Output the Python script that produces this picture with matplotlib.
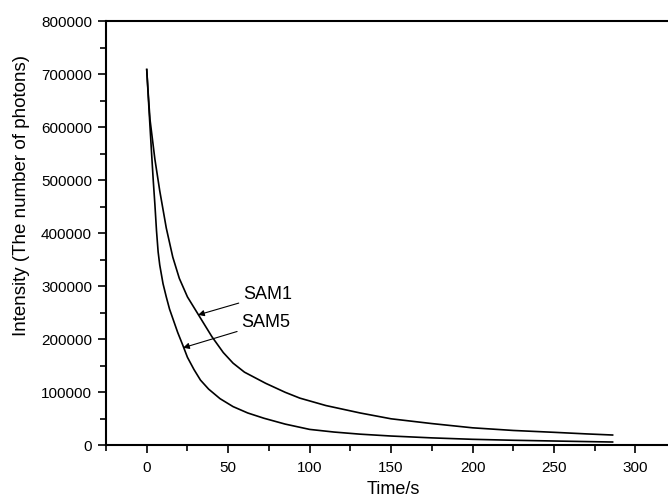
import matplotlib
matplotlib.use("Agg")
import matplotlib.pyplot as plt
from matplotlib.ticker import MultipleLocator

plt.rcParams['font.family'] = ['Liberation Sans', 'DejaVu Sans']

# Time (s) and intensity (photons)
t_sam1 = [0, 1, 2, 5, 8, 12, 16, 20, 25, 30, 35, 40, 47, 53, 60, 73, 85, 94,
          110, 131, 150, 175, 200, 225, 250, 270, 286]
v_sam1 = [709000, 660000, 615000, 540000, 480000, 410000, 355000, 315000, 280000,
          255000, 230000, 205000, 175000, 155000, 138000, 117000, 100000, 89000,
          75000, 61000, 50000, 41000, 33000, 28000, 24500, 21500, 19400]

t_sam5 = [0, 1, 2, 3, 4, 5, 6, 7, 8, 10, 12, 14, 16.5, 19, 22, 25, 29, 33, 38, 45,
          53, 62, 72, 85, 100, 115, 131, 150, 175, 200, 225, 250, 270, 286]
v_sam5 = [709000, 655000, 602000, 550000, 500000, 455000, 405000, 365000, 340000,
          305000, 280000, 257000, 235000, 213000, 190000, 166000, 143000, 123000,
          106000, 88000, 73000, 61000, 51000, 40000, 30000, 25000, 21000, 17500,
          14000, 11300, 9500, 8100, 7000, 6200]

labels = ["SAM1", "SAM5"]
arrow_tips = [(31.5, 246000), (22.3, 184000)]
text_pos = [(59, 284000), (58, 231000)]

xlim = (-25, 320)
ylim = (0, 800000)

fig = plt.figure(figsize=(6.68, 5.04), dpi=100)
ax = fig.add_axes([106 / 668, 1 - 445.3 / 504, 1 - 106 / 668, (445.3 - 21.3) / 504])

ax.plot(t_sam1, v_sam1, color='black', lw=1.2)
ax.plot(t_sam5, v_sam5, color='black', lw=1.2)

for lab, tip, tp in zip(labels, arrow_tips, text_pos):
    ax.annotate(lab, xy=tip, xytext=tp, fontsize=13, ha='left', va='center',
                arrowprops=dict(arrowstyle='-|>', color='black', lw=0.8,
                                mutation_scale=9, shrinkA=1, shrinkB=0))

ax.set_xlim(*xlim)
ax.set_ylim(*ylim)
ax.xaxis.set_major_locator(MultipleLocator(50))
ax.xaxis.set_minor_locator(MultipleLocator(25))
ax.yaxis.set_major_locator(MultipleLocator(100000))
ax.yaxis.set_minor_locator(MultipleLocator(50000))
ax.ticklabel_format(axis='y', style='plain')

ax.spines['right'].set_visible(False)
for s in ['left', 'bottom', 'top']:
    ax.spines[s].set_linewidth(1.5)

ax.tick_params(which='major', direction='out', length=6, width=1.2, labelsize=11, pad=4)
ax.tick_params(which='minor', direction='out', length=4, width=1.2)
ax.tick_params(top=False, right=False, which='both')
ax.tick_params(axis='x', which='major', pad=5)

fig.text(393 / 668, 1 - 490 / 504, "Time/s", fontsize=13, ha='center', va='center')
fig.text(22 / 668, 1 - 195 / 504, "Intensity (The number of photons)", fontsize=13.5,
         rotation=90, ha='center', va='center')

fig.savefig("out.png", dpi=100)
